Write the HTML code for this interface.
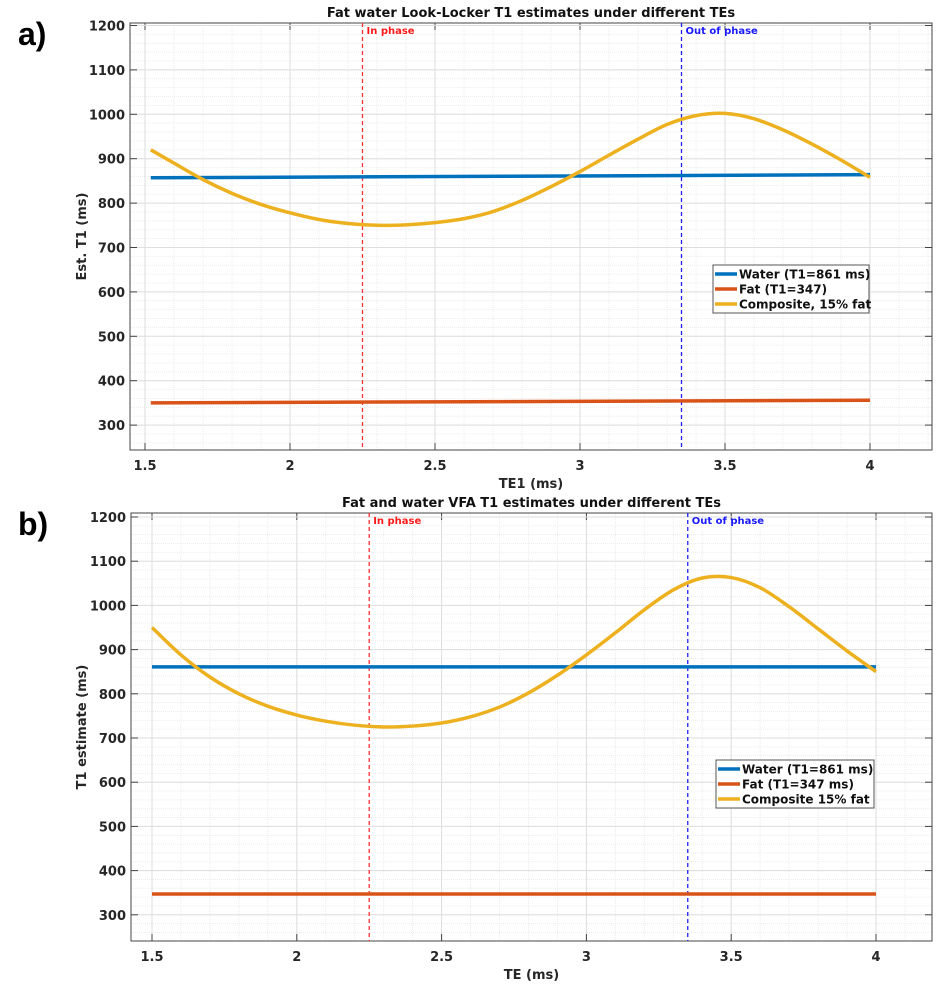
<!DOCTYPE html>
<html><head><meta charset="utf-8"><style>
body{margin:0;background:#fff;font-family:"Liberation Sans",sans-serif}
svg text{font-family:"DejaVu Sans","Liberation Sans",sans-serif;font-weight:bold}
</style></head><body>
<svg id="c" width="945" height="981" xmlns="http://www.w3.org/2000/svg"></svg>
<script>
const teA=[1.52,1.6,1.7,1.8,1.9,2.0,2.1,2.2,2.3,2.4,2.5,2.6,2.7,2.8,2.9,3.0,3.1,3.2,3.3,3.4,3.5,3.6,3.7,3.8,3.9,4.0];
const compA=[920,890,853,822,797,778,763,754,750,751,756,765,781,806,837,871,908,944,977,997,1002,990,965,933,897,858];
const waterA=[857,864];
const fatA=[350,356];
const teB=[1.5,1.6,1.7,1.8,1.9,2.0,2.1,2.2,2.3,2.4,2.5,2.6,2.7,2.8,2.9,3.0,3.1,3.2,3.3,3.4,3.5,3.6,3.7,3.8,3.9,4.0];
const compB=[950,888,838,800,772,752,738,729,725,727,734,748,770,802,842,888,938,990,1035,1062,1063,1040,997,947,897,850];
const waterB=[861,861];
const fatB=[347,347];
const xTicks=[1.5,2,2.5,3,3.5,4];
const yTicks=[300,400,500,600,700,800,900,1000,1100,1200];
const inPhase=2.25, outPhase=3.35;
const NS="http://www.w3.org/2000/svg";
const svg=document.getElementById('c');
function mk(t,a,p){const e=document.createElementNS(NS,t);for(const k in a)e.setAttribute(k,a[k]);(p||svg).appendChild(e);return e;}
function txt(s,a,p){const e=mk('text',a,p);e.textContent=s;return e;}
function smooth(pts){let d='M'+pts[0][0]+','+pts[0][1];for(let i=0;i<pts.length-1;i++){const p0=pts[Math.max(0,i-1)],p1=pts[i],p2=pts[i+1],p3=pts[Math.min(pts.length-1,i+2)];d+=' C'+(p1[0]+(p2[0]-p0[0])/6)+','+(p1[1]+(p2[1]-p0[1])/6)+' '+(p2[0]-(p3[0]-p1[0])/6)+','+(p2[1]-(p3[1]-p1[1])/6)+' '+p2[0]+','+p2[1];}return d;}
function panel(cfg){
 const g=mk('g',{});
 
 
 const L=cfg.L,R=cfg.R,T=cfg.T,B=cfg.B;
 const xs=v=>cfg.x0+(v-1.5)*cfg.xpx*2;
 const ys=v=>cfg.y1200+(1200-v)*cfg.ypx/100;
 const xmin=1.5+(L-cfg.x0)/(cfg.xpx*2), xmax=1.5+(R-cfg.x0)/(cfg.xpx*2);
 const ymin=1200-(B-cfg.y1200)*100/cfg.ypx;
 mk('rect',{x:L,y:T,width:R-L,height:B-T,fill:'#fff'},g);
 for(let v=Math.ceil(xmin*10)/10;v<=xmax;v+=0.1){const x=xs(v);mk('line',{x1:x,x2:x,y1:T,y2:B,stroke:'#ececec','stroke-width':1,'stroke-dasharray':'1,1'},g);}
 for(let v=Math.ceil(ymin/20)*20;v<=1200;v+=20){const y=ys(v);mk('line',{x1:L,x2:R,y1:y,y2:y,stroke:'#ececec','stroke-width':1,'stroke-dasharray':'1,1'},g);}
 xTicks.forEach(v=>{const x=xs(v);mk('line',{x1:x,x2:x,y1:T,y2:B,stroke:'#dedede'},g);mk('line',{x1:x,x2:x,y1:B,y2:B-7,stroke:'#444'},g);mk('line',{x1:x,x2:x,y1:T,y2:T+7,stroke:'#444'},g);
  const t=txt(String(v),{x:x,y:B+20,'text-anchor':'middle','font-size':13,fill:'#262626'},g);});
 yTicks.forEach(v=>{const y=ys(v);mk('line',{x1:L,x2:R,y1:y,y2:y,stroke:'#dedede'},g);mk('line',{x1:L,x2:L+7,y1:y,y2:y,stroke:'#444'},g);mk('line',{x1:R,x2:R-7,y1:y,y2:y,stroke:'#444'},g);
  const t=txt(String(v),{x:L-5,y:y+5,'text-anchor':'end','font-size':13,fill:'#262626'},g);});
 mk('rect',{x:L,y:T,width:R-L,height:B-T,fill:'none',stroke:'#444','stroke-width':1},g);
 const ip=mk('line',{x1:xs(inPhase),x2:xs(inPhase),y1:T,y2:B,stroke:'#ff3030','stroke-width':1.3,'stroke-dasharray':'4,3'},g);
 
 txt('In phase',{x:xs(inPhase)+4,y:T+11,'font-size':10,fill:'#ff1a1a'},g);
 const op=mk('line',{x1:xs(outPhase),x2:xs(outPhase),y1:T,y2:B,stroke:'#2020ff','stroke-width':1.3,'stroke-dasharray':'4,3'},g);
 
 txt('Out of phase',{x:xs(outPhase)+4,y:T+11,'font-size':10,fill:'#1a1aff'},g);
 const w=mk('line',{x1:xs(cfg.te[0]),x2:xs(4),y1:ys(cfg.water[0]),y2:ys(cfg.water[1]),stroke:'#0072bd','stroke-width':3.5},g);
 
 const f=mk('line',{x1:xs(cfg.te[0]),x2:xs(4),y1:ys(cfg.fat[0]),y2:ys(cfg.fat[1]),stroke:'#d95319','stroke-width':3.5},g);
 
 const c=mk('path',{d:smooth(cfg.te.map((t,i)=>[xs(t),ys(cfg.comp[i])])),fill:'none',stroke:'#edb120','stroke-width':3.5},g);
 
 const tt=txt(cfg.title,{x:(L+R)/2,y:T-6,'text-anchor':'middle','font-size':13,fill:'#111'},g);
 
 const xl=txt(cfg.xlabel,{x:(L+R)/2,y:B+38,'text-anchor':'middle','font-size':13,fill:'#262626'},g);
 
 const yl=txt(cfg.ylabel,{x:0,y:0,'text-anchor':'middle','font-size':13,fill:'#262626',transform:'translate(86,'+((T+B)/2)+') rotate(-90)'},g);
 
 const lg=mk('g',{},g);
 mk('rect',{x:cfg.lx,y:cfg.ly,width:cfg.lw,height:48,fill:'#fff',stroke:'#555'},lg);
 [['#0072bd',cfg.leg[0]],['#d95319',cfg.leg[1]],['#edb120',cfg.leg[2]]].forEach((e,i)=>{const y=cfg.ly+9+i*15;
  mk('line',{x1:cfg.lx+2,x2:cfg.lx+24,y1:y,y2:y,stroke:e[0],'stroke-width':3.5},lg);
  const t=txt(e[1],{x:cfg.lx+26,y:y+4.5,'font-size':12,fill:'#111'},lg);});
 const lab=txt(cfg.tag,{x:18,y:cfg.tagY,'font-size':32,fill:'#000',style:'font-family:"Liberation Sans",sans-serif'},g);
 
}
panel({name:'panel-a',L:130,R:932,T:23,B:450,x0:145,xpx:145,y1200:25.5,ypx:44.4,te:teA,comp:compA,water:waterA,fat:fatA,
 title:'Fat water Look-Locker T1 estimates under different TEs',xlabel:'TE1 (ms)',ylabel:'Est. T1 (ms)',lx:713,ly:265,lw:156,
 leg:['Water (T1=861 ms)','Fat (T1=347)','Composite, 15% fat'],tag:'a)',tagY:45});
panel({name:'panel-b',L:131,R:932,T:513,B:941,x0:152,xpx:144.8,y1200:517,ypx:44.2,te:teB,comp:compB,water:waterB,fat:fatB,
 title:'Fat and water VFA T1 estimates under different TEs',xlabel:'TE (ms)',ylabel:'T1 estimate (ms)',lx:716,ly:760,lw:158,
 leg:['Water (T1=861 ms)','Fat (T1=347 ms)','Composite 15% fat'],tag:'b)',tagY:535});
</script>
</body></html>
